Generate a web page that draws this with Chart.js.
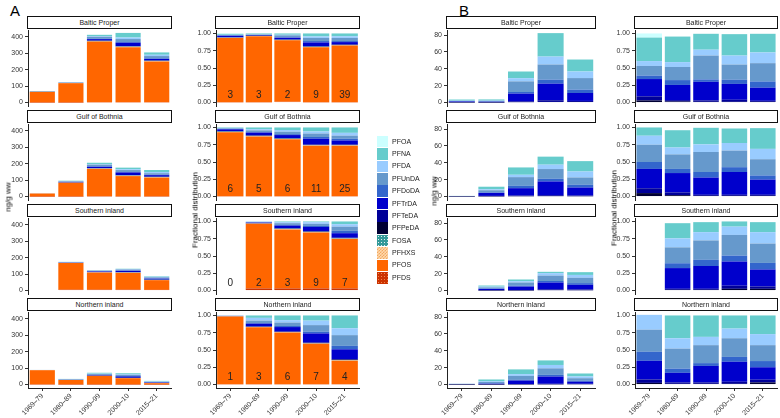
<!DOCTYPE html>
<html lang="en">
<head>
<meta charset="UTF-8">
<title>PFAS in fish, 1969-2021</title>
<script src="https://cdn.jsdelivr.net/npm/chart.js"></script>
<style>
  body { margin: 0; background: #fff; font-family: "Liberation Sans", Arial, sans-serif; -webkit-font-smoothing: antialiased; }
  #fig { position: relative; width: 780px; height: 418px; overflow: hidden; }
  #fig canvas { position: absolute; }
  .strip { position: absolute; box-sizing: border-box; height: 13px; border: 1px solid #111; background: #fff;
           font-size: 7px; color: #222; text-align: center; line-height: 11px; z-index: 2; }
  .tag { position: absolute; font-size: 15px; color: #000; line-height: 15px; }
  .ytitle { position: absolute; font-size: 8px; color: #000; white-space: nowrap; transform: translate(-50%, -50%) rotate(-90deg); z-index: 3; }
  .sw { position: absolute; left: 377px; width: 11px; height: 11.6px; }
  .lab { position: absolute; left: 392px; font-size: 7px; color: #222; line-height: 10px; }
</style>
</head>
<body>
<div id="fig">
  <div class="tag" style="left:10px; top:3px;">A</div>
  <div class="tag" style="left:459px; top:3px;">B</div>
  <div class="ytitle" style="left:8px; top:197px;">ng/g ww</div>
  <div class="ytitle" style="left:195px; top:210px;">Fractional distribution</div>
  <div class="ytitle" style="left:434px; top:191px;">ng/g ww</div>
  <div class="ytitle" style="left:614px; top:208px;">Fractional distribution</div>
</div>

<script>
// ---- data ----
const periods = ['1969–79', '1980–89', '1990–99', '2000–10', '2015–21'];
const regions = ['Baltic Proper', 'Gulf of Bothnia', 'Southern inland', 'Northern inland'];
// stacking order, bottom first
const compounds = ['PFDS', 'PFOS', 'PFHXS', 'FOSA', 'PFPeDA', 'PFTeDA', 'PFTrDA', 'PFDoDA', 'PFUnDA', 'PFDA', 'PFNA', 'PFOA'];
const pfcas = ['PFPeDA', 'PFTeDA', 'PFTrDA', 'PFDoDA', 'PFUnDA', 'PFDA', 'PFNA', 'PFOA'];
// number of samples printed in the bars
const sampleN = [[3, 3, 2, 9, 39], [6, 5, 6, 11, 25], [0, 2, 3, 9, 7], [1, 3, 6, 7, 4]];

// B, ng/g ww, rows in pfcas order
const bAbsBaltic = [
  [0.1, 0.05, 0.5, 0.7, 0.7],
  [0.25, 0.1, 1.0, 2.0, 1.2],
  [0.95, 0.85, 9.1, 19.7, 9.4],
  [0.2, 0.3, 1.9, 4.7, 4.0],
  [0.5, 0.7, 12.6, 18.0, 13.7],
  [0.25, 0.3, 3.8, 9.4, 7.8],
  [1.3, 1.4, 7.9, 27.8, 14.2],
  [0.2, 0, 0, 0, 0]
];
const bAbsGulf = [
  [0.04, 0.25, 0.4, 0.5, 0.4],
  [0.05, 0.5, 0.8, 1.1, 0.8],
  [0.25, 3.5, 8.7, 16.3, 9.5],
  [0.08, 0.6, 2.8, 3.2, 3.2],
  [0.2, 2.6, 10.3, 11.5, 8.7],
  [0.1, 1.2, 2.8, 5.2, 7.1],
  [0.08, 3.0, 8.7, 9.5, 12.3],
  [0, 0, 0, 0, 0]
];
const bAbsSouth = [
  [null, 0.1, 0.15, 0.5, 0.4],
  [null, 0.15, 0.25, 1.0, 0.9],
  [null, 1.7, 4.3, 8.0, 5.5],
  [null, 0.4, 1.0, 1.8, 2.0],
  [null, 1.4, 3.8, 6.4, 6.4],
  [null, 0.9, 1.6, 2.9, 3.3],
  [null, 1.3, 2.0, 1.6, 3.3],
  [null, 0, 0, 0, 0]
];
const bAbsNorth = [
  [0.02, 0.05, 0.2, 0.3, 0.4],
  [0.05, 0.1, 0.35, 0.6, 0.5],
  [0.27, 0.85, 4.2, 8.6, 2.4],
  [0.13, 0.4, 0.8, 2.0, 1.2],
  [0.32, 1.7, 4.7, 7.7, 3.0],
  [0.21, 0.9, 2.1, 4.0, 2.1],
  [0, 2.0, 5.6, 5.4, 3.5],
  [0, 0, 0, 0, 0]
];

// A, ng/g ww of PFDS, PFOS, PFHXS, FOSA (the PFCAs are the B values)
const aAbsBaltic = [
  [0.5, 0.5, 2, 2, 2],
  [64, 117, 368, 334, 247],
  [0.5, 0.5, 1, 2, 2],
  [1, 1, 3, 2, 2]
];
const aAbsGulf = [
  [0.3, 0.5, 1.5, 1, 1],
  [18, 83, 166, 123, 114],
  [0.3, 0.5, 1.5, 2, 2],
  [0.3, 0.5, 1.5, 2, 2]
];
const aAbsSouth = [
  [null, 5, 5, 5, 4],
  [null, 162, 104, 102, 59],
  [null, 0.5, 1, 1.5, 1],
  [null, 0.5, 1, 1.5, 1]
];
const aAbsNorth = [
  [1, 0.5, 0.5, 0.5, 0.3],
  [86, 27, 52, 38, 8],
  [0.5, 0.3, 0.5, 1, 0.5],
  [0.5, 0.3, 0.5, 0.5, 0.2]
];

// A, fractions, rows in compounds order
const aFracBaltic = [
  [0.005, 0.005, 0.01, 0.005, 0.005],
  [0.93, 0.955, 0.89, 0.795, 0.82],
  [0.003, 0.003, 0.003, 0.003, 0.003],
  [0.002, 0.002, 0.005, 0.005, 0.005],
  [0.002, 0.001, 0.002, 0.002, 0.002],
  [0.005, 0.002, 0.003, 0.005, 0.005],
  [0.02, 0.01, 0.025, 0.055, 0.035],
  [0.003, 0.002, 0.005, 0.02, 0.015],
  [0.007, 0.005, 0.03, 0.045, 0.045],
  [0.003, 0.003, 0.008, 0.022, 0.025],
  [0.015, 0.012, 0.019, 0.043, 0.04],
  [0.005, 0, 0, 0, 0]
];
const aFracGulf = [
  [0.005, 0.005, 0.005, 0.005, 0.005],
  [0.925, 0.865, 0.825, 0.73, 0.73],
  [0.005, 0.003, 0.003, 0.005, 0.005],
  [0.005, 0.005, 0.005, 0.005, 0.005],
  [0.003, 0.002, 0.002, 0.002, 0.002],
  [0.005, 0.005, 0.005, 0.005, 0.005],
  [0.025, 0.04, 0.045, 0.085, 0.06],
  [0.005, 0.008, 0.013, 0.025, 0.025],
  [0.01, 0.025, 0.035, 0.05, 0.045],
  [0.005, 0.017, 0.025, 0.03, 0.04],
  [0.007, 0.025, 0.037, 0.058, 0.078],
  [0, 0, 0, 0, 0]
];
const aFracSouth = [
  [null, 0.03, 0.03, 0.03, 0.03],
  [null, 0.935, 0.855, 0.81, 0.715],
  [null, 0.003, 0.005, 0.005, 0.005],
  [null, 0.002, 0.005, 0.005, 0.005],
  [null, 0.001, 0.002, 0.003, 0.003],
  [null, 0.002, 0.003, 0.007, 0.007],
  [null, 0.01, 0.04, 0.06, 0.065],
  [null, 0.003, 0.01, 0.015, 0.035],
  [null, 0.007, 0.025, 0.03, 0.06],
  [null, 0.005, 0.015, 0.025, 0.035],
  [null, 0.002, 0.01, 0.01, 0.04],
  [null, 0, 0, 0, 0]
];
const aFracNorth = [
  [0.005, 0.005, 0.005, 0.005, 0.005],
  [0.98, 0.825, 0.75, 0.585, 0.34],
  [0.002, 0.003, 0.003, 0.004, 0.005],
  [0.001, 0.002, 0.002, 0.003, 0.005],
  [0.0005, 0.001, 0.002, 0.003, 0.005],
  [0.001, 0.004, 0.005, 0.01, 0.01],
  [0.003, 0.04, 0.065, 0.13, 0.14],
  [0.001, 0.01, 0.015, 0.025, 0.05],
  [0.003, 0.035, 0.05, 0.095, 0.155],
  [0.003, 0.04, 0.035, 0.065, 0.10],
  [0, 0.035, 0.068, 0.075, 0.185],
  [0, 0, 0, 0, 0]
];

// B, fractions, rows in pfcas order
const bFracBaltic = [
  [0.03, 0.015, 0.01, 0.01, 0.01],
  [0.06, 0.02, 0.02, 0.03, 0.015],
  [0.25, 0.22, 0.27, 0.23, 0.19],
  [0.05, 0.07, 0.035, 0.06, 0.09],
  [0.14, 0.19, 0.345, 0.22, 0.265],
  [0.07, 0.07, 0.085, 0.13, 0.155],
  [0.34, 0.37, 0.23, 0.31, 0.27],
  [0.06, 0, 0, 0, 0]
];
const bFracGulf = [
  [0.05, 0.02, 0.01, 0.01, 0.01],
  [0.07, 0.04, 0.015, 0.015, 0.015],
  [0.28, 0.28, 0.25, 0.33, 0.22],
  [0.10, 0.06, 0.08, 0.07, 0.06],
  [0.25, 0.21, 0.29, 0.24, 0.235],
  [0.13, 0.10, 0.11, 0.11, 0.15],
  [0.12, 0.25, 0.24, 0.21, 0.30],
  [0, 0, 0, 0, 0]
];
const bFracSouth = [
  [null, 0.01, 0.01, 0.025, 0.025],
  [null, 0.015, 0.015, 0.045, 0.035],
  [null, 0.30, 0.33, 0.35, 0.245],
  [null, 0.07, 0.09, 0.085, 0.095],
  [null, 0.23, 0.28, 0.30, 0.28],
  [null, 0.13, 0.12, 0.12, 0.165],
  [null, 0.22, 0.145, 0.075, 0.145],
  [null, 0, 0, 0, 0]
];
const bFracNorth = [
  [0.024, 0.01, 0.01, 0.01, 0.03],
  [0.05, 0.02, 0.02, 0.03, 0.04],
  [0.27, 0.14, 0.24, 0.29, 0.18],
  [0.13, 0.06, 0.04, 0.07, 0.09],
  [0.32, 0.29, 0.26, 0.27, 0.23],
  [0.215, 0.15, 0.12, 0.14, 0.16],
  [0, 0.33, 0.31, 0.19, 0.27],
  [0, 0, 0, 0, 0]
];

const ticksAbsA = [0, 100, 200, 300, 400];
const ticksAbsB = [0, 20, 40, 60, 80];
const ticksFrac = [0, 0.25, 0.5, 0.75, 1];

// ---- style ----
const colors = {
  PFDS: '#cc3300', PFOS: '#ff6600', PFHXS: '#ffcc99', FOSA: '#339999',
  PFPeDA: '#000033', PFTeDA: '#000099', PFTrDA: '#0000cc', PFDoDA: '#3366cc',
  PFUnDA: '#6699cc', PFDA: '#99ccff', PFNA: '#66cccc', PFOA: '#ccffff'
};
const rowTop = [16, 110, 204, 298];      // top of the strip boxes
const cols = [[28, 171], [216, 359], [447, 595], [635, 777]];
const YW = 30, PT = 8, PR = 6, PB = 8, XH = 28;

Chart.defaults.font.family = "'Liberation Sans', Arial, sans-serif";

const countLabels = {
  id: 'counts',
  afterDatasetsDraw(chart, args, opts) {
    if (!opts.values) return;
    const ctx = chart.ctx, xs = chart.scales.x, ys = chart.scales.y;
    ctx.save();
    ctx.font = '10px "Liberation Sans", Arial, sans-serif';
    ctx.fillStyle = '#222';
    ctx.textAlign = 'center';
    ctx.textBaseline = 'middle';
    opts.values.forEach((n, i) => ctx.fillText(String(n), xs.getPixelForValue(i), ys.getPixelForValue(0.11)));
    ctx.restore();
  }
};

const fig = document.getElementById('fig');

function panel(col, row, names, rows, yMin, yMax, yTicks, fmt, barPct, counts) {
  const [L, R] = cols[col];
  const top = rowTop[row] + 14, bottom = rowTop[row] + 90;
  const last = row === 3;

  const strip = document.createElement('div');
  strip.className = 'strip';
  strip.style.left = (L - 1) + 'px';
  strip.style.top = rowTop[row] + 'px';
  strip.style.width = (R - L + 2) + 'px';
  strip.textContent = regions[row];
  fig.appendChild(strip);

  const w = R - L + YW + PR;
  const h = bottom - top + PT + (last ? XH : PB);
  const cv = document.createElement('canvas');
  cv.width = w; cv.height = h;
  cv.style.width = w + 'px'; cv.style.height = h + 'px';
  cv.style.left = (L - YW) + 'px';
  cv.style.top = (top - PT) + 'px';
  fig.appendChild(cv);

  new Chart(cv, {
    type: 'bar',
    data: {
      labels: periods,
      datasets: names.map((n, i) => ({
        label: n,
        data: rows[i],
        backgroundColor: colors[n],
        borderWidth: 0,
        barPercentage: barPct,
        categoryPercentage: 1
      }))
    },
    options: {
      responsive: false,
      animation: false,
      layout: { padding: { top: PT, right: PR, bottom: last ? 0 : PB, left: 0 } },
      plugins: { legend: { display: false }, tooltip: { enabled: false }, counts: { values: counts } },
      scales: {
        x: {
          stacked: true,
          display: last,
          offset: true,
          grid: { drawOnChartArea: false, offset: false, tickLength: 3, color: '#333' },
          border: { display: true, color: '#222', width: 1 },
          ticks: { font: { size: 7 }, color: '#333', minRotation: 45, maxRotation: 45, autoSkip: false, padding: 1 },
          afterFit(s) { s.height = last ? XH : 0; }
        },
        y: {
          stacked: true,
          min: yMin,
          max: yMax,
          afterBuildTicks(s) { s.ticks = yTicks.map(v => ({ value: v })); },
          grid: { drawOnChartArea: false, tickLength: 3, color: '#333' },
          border: { display: true, color: '#222', width: 1 },
          ticks: { font: { size: 7 }, color: '#333', padding: 2, callback: fmt },
          afterFit(s) { s.width = YW; }
        }
      }
    },
    plugins: [countLabels]
  });
}

const bAbs = [bAbsBaltic, bAbsGulf, bAbsSouth, bAbsNorth];
const aAbs = [aAbsBaltic, aAbsGulf, aAbsSouth, aAbsNorth];
const aFrac = [aFracBaltic, aFracGulf, aFracSouth, aFracNorth];
const bFrac = [bFracBaltic, bFracGulf, bFracSouth, bFracNorth];
const asInt = v => v;
const as2 = v => v.toFixed(2);

for (let r = 0; r < 4; r++) {
  panel(0, r, compounds, aAbs[r].concat(bAbs[r]), -21, 440, ticksAbsA, asInt, 0.88, null);
  panel(1, r, compounds, aFrac[r], -0.05, 1.05, ticksFrac, as2, 0.92, sampleN[r]);
  panel(2, r, pfcas, bAbs[r], -4.1, 86, ticksAbsB, asInt, 0.88, null);
  panel(3, r, pfcas, bFrac[r], -0.05, 1.05, ticksFrac, as2, 0.9, null);
}

// ---- legend (top entry = top of stack) ----
const swatchCss = {
  FOSA: 'background:#339999 radial-gradient(circle, rgba(255,255,255,0.85) 0.5px, transparent 0.9px) 0 0/3px 3px;',
  PFHXS: 'background-color:#ffd9ad; background-image:linear-gradient(45deg,#f2a860 25%,transparent 25%,transparent 75%,#f2a860 75%),linear-gradient(45deg,#f2a860 25%,transparent 25%,transparent 75%,#f2a860 75%); background-size:3px 3px; background-position:0 0,1.5px 1.5px;',
  PFDS: 'background:#cc3300 radial-gradient(circle, rgba(255,170,110,0.7) 0.5px, transparent 0.9px) 0 0/3px 3px;'
};
compounds.slice().reverse().forEach((n, i) => {
  const y = 135.8 + 12.38 * i;
  const sw = document.createElement('div');
  sw.className = 'sw';
  sw.style.cssText = 'top:' + y + 'px;' + (swatchCss[n] || ('background:' + colors[n] + ';'));
  fig.appendChild(sw);
  const lab = document.createElement('div');
  lab.className = 'lab';
  lab.style.top = (y + 0.8) + 'px';
  lab.textContent = n;
  fig.appendChild(lab);
});
</script>
</body>
</html>
